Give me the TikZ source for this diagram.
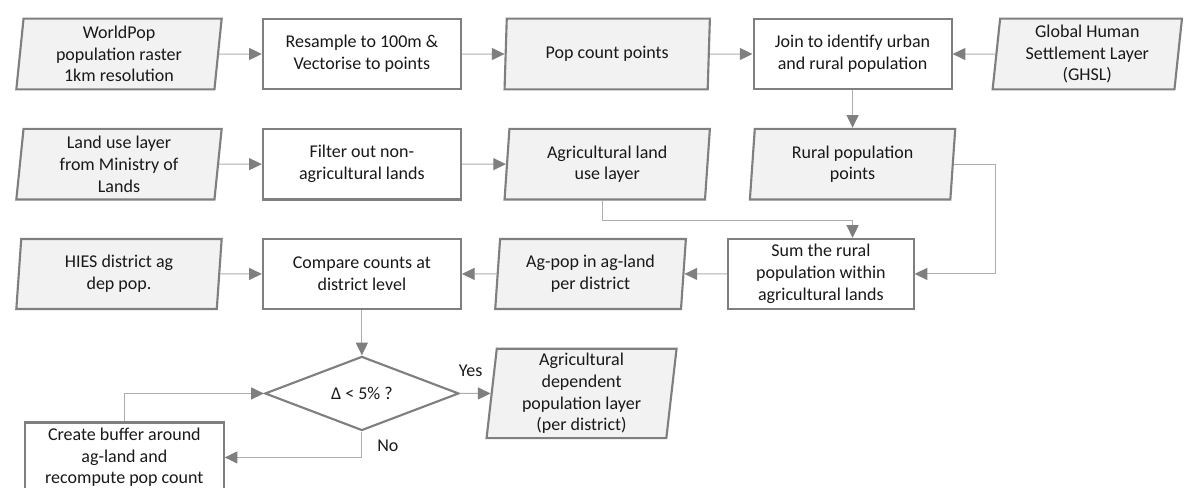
\documentclass[tikz,border=0pt]{standalone}
\usepackage{fontspec}
\setmainfont{Carlito}
\usetikzlibrary{arrows.meta,positioning,shapes.geometric}
\definecolor{edgegray}{HTML}{7F7F7F}
\definecolor{linegray}{HTML}{ADADAD}
\definecolor{datafill}{HTML}{F2F2F2}

\begin{document}
\begin{tikzpicture}
[ x=0.75pt, y=-0.75pt,
	node distance=28pt and 32pt,
	every node/.style={font=\fontsize{13.5pt}{16.3pt}\selectfont,text=black!90},
	dataset/.style={trapezium,trapezium left angle=83,trapezium right angle=97,trapezium stretches body=true,draw=edgegray,line width=1.6pt,fill=datafill,minimum width=154pt,minimum height=53pt,inner sep=1pt,align=center},
	process/.style={rectangle,draw=edgegray,line width=1.6pt,fill=white,minimum width=148.5pt,minimum height=53pt,inner sep=1pt,align=center},
	decision/.style={diamond,draw=edgegray,line width=1.6pt,fill=white,minimum width=145.5pt,minimum height=52.5pt,inner sep=0pt,align=center},
	flow/.style={-{Triangle[length=9.5pt,width=9pt,color=edgegray]},draw=linegray,line width=0.75pt}]

	\useasboundingbox (0,0) rectangle (1186,487);

	\node[dataset] (worldpop) at (119,54) {WorldPop\\population raster\\1km resolution};
	\node[process] (resample) [right=of worldpop] {Resample to 100m \&\\Vectorise to points};
	\node[dataset] (popcount) [right=of resample] {Pop count points};
	\node[process] (join) [right=of popcount] {Join to identify urban\\and rural population};
	\node[dataset,minimum width=142pt] (ghsl) [right=of join] {Global Human\\Settlement Layer\\(GHSL)};

	\node[dataset] (landuse) [below=of worldpop] {Land use layer\\from Ministry of\\Lands};
	\node[process] (filter) [below=of resample] {Filter out non-\\agricultural lands};
	\node[dataset] (agland) [below=of popcount] {Agricultural land\\use layer};
	\node[dataset] (rural) [below=of join] {Rural population\\points};

	\node[dataset,minimum height=52.5pt] (hies) [below=of landuse] {HIES district ag\\dep pop.};
	\node[process,minimum height=52.5pt] (compare) [below=of filter] {Compare counts at\\district level};
	\node[dataset,minimum width=143pt,minimum height=52.5pt] (agpop) [right=26pt of compare] {Ag-pop in ag-land\\per district};
	\node[process,minimum width=139pt,minimum height=52.5pt] (sum) [right=of agpop] {Sum the rural\\population within\\agricultural lands};

	\node[decision] (decide) [below=34pt of compare] {Δ < 5\% ?};
	\node[dataset,minimum width=142.5pt,minimum height=67pt] (agdep) [right=23pt of decide] {Agricultural\\dependent\\population layer\\(per district)};
	\node[process,minimum width=149pt,minimum height=52.5pt] (buffer) [below=83.5pt of hies,xshift=4pt] {Create buffer around\\ag-land and\\recompute pop count};

	\node (yes) at ([xshift=8pt,yshift=17pt]decide.east) {Yes};
	\node (no) at ([xshift=19.5pt,yshift=-11pt]decide.south) {No};

	\draw[flow] (worldpop) -- (resample);
	\draw[flow] (resample) -- (popcount);
	\draw[flow] (popcount) -- (join);
	\draw[flow] (ghsl) -- (join);
	\draw[flow] (join) -- (join |- rural.north);
	\draw[flow] (landuse) -- (filter);
	\draw[flow] (filter) -- (agland);
	\draw[flow] ([xshift=-3.5pt]agland.south) -- ++(0,-15pt) -| (join |- sum.north);
	\draw[flow] (rural.east) -- ++(31.5pt,0) |- (sum.east);
	\draw[flow] (sum) -- (agpop);
	\draw[flow] (agpop) -- (compare);
	\draw[flow] (hies) -- (compare);
	\draw[flow] (compare) -- (decide);
	\draw[flow] (decide) -- (agdep);
	\draw[flow] (decide.south) |- (buffer.east);
	\draw[flow] (buffer.north) |- (decide.west);
\end{tikzpicture}
\end{document}
